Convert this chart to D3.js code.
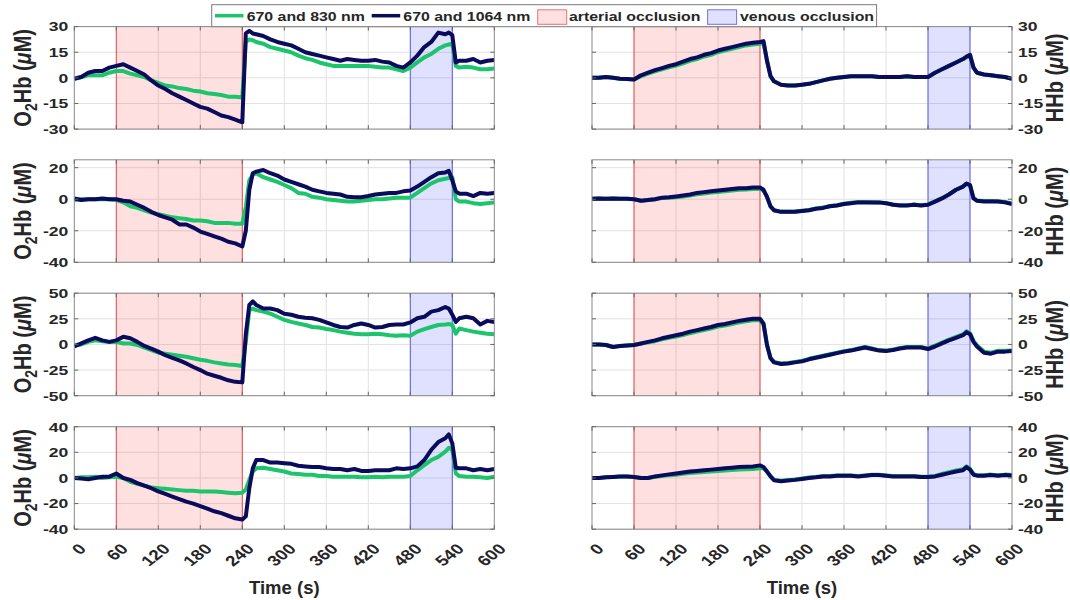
<!DOCTYPE html>
<html>
<head>
<meta charset="utf-8">
<script src="https://cdn.jsdelivr.net/npm/d3@7"></script>
<style>
body { margin: 0; background: #fff; }
text { font-family: "Liberation Sans", Arial, sans-serif; font-weight: bold; fill: #262626; }
</style>
</head>
<body>
<div id="chart"></div>
<script>
// sample times (s)
const time = [0,10,20,30,40,50,60,70,80,90,100,110,120,130,140,150,160,170,180,190,200,210,220,230,240,245,250,255,
  260,270,280,290,300,310,320,330,340,350,360,370,380,390,400,410,420,430,440,450,460,470,480,490,500,510,520,530,
  535,540,545,550,560,570,580,590,600];

// O2Hb, 670 and 1064 nm (rows 1-4)
const o2_1064_r1 = [-0.5,0.5,3,4,4,6,7,8,6,4,2,-1.5,-4.5,-6.5,-9,-11,-13,-15,-17,-18,-20,-22,-23,-24.5,-26,26,27.5,26,
  25.5,24.5,22.5,21,20,19,17,15,14,13,12,11,10,11,10.5,10,10,10.5,9.5,9,7,6,9,13,18,21,26.5,25.5,
  26.5,25,9,10,10,11,9,10,10.5];
const o2_1064_r2 = [0.5,-0.5,0,0,0.5,0,0,-1,-1.5,-3.5,-5.5,-8,-10,-11.5,-13,-16,-16,-18,-20.5,-22,-23.5,-25,-27,-28,-30,-20,6,16.5,
  17.5,18.5,16.5,15,12.5,11,9.5,8,6,5,4,3.5,3,1.5,1.2,1.2,2,3,3.5,4,4,5,5.5,8,11,14,16.5,17,
  18,12,5,3.5,3.5,2,4,3.5,4];
const o2_1064_r3 = [-2,1,4,6.5,4,2.5,4,7.5,6,2.5,-1.5,-4,-7,-10.5,-13,-15.5,-18.5,-22,-25,-28.5,-30.5,-32.5,-35,-36.5,-37,10,38.5,42,
  38.5,35,35,33.5,30,29,27,26,25.5,24,21.5,19,17,16.5,19,20.5,19,16.5,17,19,19.5,19.5,21.5,25.5,27,32,33.5,36.5,
  35,29,22,25.5,27,25.5,19.5,23,22];
const o2_1064_r4 = [0,-0.5,-1,0,1,1,3.5,0,-1.5,-4,-6,-8,-10.5,-12.5,-14.5,-16.5,-18.5,-20,-22,-24,-26,-27.5,-29.5,-31.5,-32.5,-30,-8,7.5,
  14,14,12,12,11.5,11,9.5,9,8.5,8.5,7.5,7,7,6,7,5.5,5.5,6,6,6,7.5,7,7.5,9,14,22,28,31,
  34,27,8,7.5,7.5,6,7,6,7];

// O2Hb, 670 and 830 nm
const o2_830_r1 = [-0.5,0.5,1.5,1.5,1.5,3,4,4,2.5,1.5,0.5,-1.5,-3,-4.5,-5,-6,-6.5,-7.5,-8,-9,-9.5,-10,-11,-11,-11.5,21,22.5,22,
  21,20,18,17,16,15,13,11.5,10.5,9,8,7,7,7,7,7,7,6.5,6,6,5,4,6,9,12,14,17,19,
  19.5,20,7,6,6.5,6,5,5,5.5];
const o2_830_r2 = [-0.5,0,0,0,0,0,-0.5,-2,-4.5,-5.5,-7,-8.5,-9.5,-10.5,-11.5,-12,-12.5,-13.5,-13.5,-14,-15,-15,-15,-15.5,-15.5,-5,12,15.5,
  16.5,14,12.5,11,9,7,4,3.5,1.5,1,0,-0.5,-1,-1.5,-1.5,-1,-0.5,0,0,0.5,1,1,1,4,7,10,12,13,
  13.5,14,0,-1.5,-1.5,-2.5,-3,-2.5,-2];
const o2_830_r3 = [-0.5,0,2.5,4,3,2.5,2.5,1,1,-0.5,-3,-5.5,-8,-9,-10,-11,-12,-13.5,-15,-16,-17.5,-18.5,-19.5,-20,-21,2.5,33.5,35,
  33.5,32,30,27,24,22,20.5,19,17,16.5,15,14,12.5,11.5,10.5,10,10,10.5,10,9,8.5,9,8.5,12.5,15,17,19,19.5,
  20,19,10.5,15.5,14,12.5,11.5,10.5,10];
const o2_830_r4 = [0,0.5,0.5,1,0,0.5,1,0,-3,-4.5,-6,-7.5,-8,-8.5,-9,-9.5,-10,-10,-10.5,-10.5,-10.5,-11,-11.5,-12,-11.5,-9,-1.5,5,
  7.5,8,7,6,5,3.5,3,2.5,2.5,1.5,1.5,1,1,1,1,0.5,0.5,1,0.5,1,1,1,1.5,6,10,14,16.5,20.5,
  23.5,22,3.5,1.5,1,1,0.5,0,1];

// HHb, 670 and 1064 nm
const hhb_1064_r1 = [0,0,0.5,0,-0.5,-0.7,-1,1.5,3,4.5,5.7,7,8,9.5,11,12,13.5,14.5,16,17,18,19,20,20.5,21,21.5,10,1,
  -2,-4,-4.5,-4.5,-4,-3.5,-2.5,-1.5,-0.5,0,0.5,1,1,1,1,0.5,0.5,0.5,0.5,1,0.5,0.5,0.5,3,5,7,9,11,
  12.5,13.5,6,3,2,1.5,1,0.5,-0.5];
const hhb_1064_r2 = [0.3,0.5,0.3,0.5,0.3,0.3,0,-1,-0.5,0,1,1.2,1.7,2.3,3,4,4.5,5,5.5,6,6.5,7,7,7.5,7.5,6,1.5,-4.5,
  -7,-8,-8,-8,-7.5,-7,-6,-5.5,-4.5,-4,-3,-2.5,-2,-2,-2,-2,-2.5,-3.5,-4,-4,-3.5,-4,-3.5,-1.5,0.5,3,6,8,
  10,9,0.5,-1,-1.5,-1.5,-1.5,-2,-3];
const hhb_1064_r3 = [0,0,-0.5,-2.5,-1.5,-1,-0.5,1,2.5,4,6,7.5,9,10.5,12.5,14,15.5,17,19,20,21.5,23,24,25,25,20.5,-0.5,-13.5,
  -17.5,-19,-18.5,-17.5,-16.5,-14.5,-13,-11.5,-10,-8.5,-7,-6,-4.5,-3,-4.5,-6,-6.5,-5.5,-4,-3,-3,-3,-4.5,-2,1,4,6.5,9,
  12,10,2.5,-2,-8,-9,-7,-7,-6.5];
const hhb_1064_r4 = [0,0,0.5,0.8,1.2,1.2,0.8,0,0,1.2,2,2.8,3.5,4.3,5,5.5,6,6.5,7,7.5,8,8.5,8.7,9,9.8,8.5,5,1.2,
  -1.8,-2.5,-2,-1.5,-0.8,0,0.5,1.2,1.2,1.8,1.8,1.8,1.2,1.8,2.3,2.3,1.8,1.2,1.2,1.2,1.2,0.8,0.8,1.2,2.5,3.8,5,6,
  8.5,6.5,2.5,1.8,1.8,2.3,1.8,2.3,2];

// HHb, 670 and 830 nm
const hhb_830_r1 = [0,0,0.5,0,-0.5,-0.7,-1,1,2.5,3.8,5,6.2,7.2,8.5,10,11,12.5,13.5,15,16,17,18,19,19.5,20,20.5,10,1,
  -2,-4,-4.5,-4.5,-4,-3.5,-2.5,-1.5,-0.5,0,0.5,1,1,1,1,0.5,0.5,0.5,0.5,1,0.5,0.5,0.5,3,5,7,9,11,
  12,13,6,3,2,1.5,1,0.5,-0.5];
const hhb_830_r2 = [0.3,0.5,0.3,0.5,0.3,0.3,0,-1,-0.5,0,0.8,1,1.2,1.7,2.3,3.2,3.7,4.2,4.6,5.1,5.6,6,6.1,6.5,6.6,5.5,1.5,-4.5,
  -7,-8,-8,-7.8,-7.3,-6.8,-5.8,-5.3,-4.3,-3.8,-2.8,-2.3,-1.8,-1.8,-1.9,-2,-2.5,-3.4,-3.8,-3.9,-3.4,-3.8,-3.3,-1.3,0.7,3.2,6,8,
  9.7,8.8,0.8,-0.8,-1.2,-1.2,-1.3,-1.8,-2.8];
const hhb_830_r3 = [0,0,-0.5,-2.5,-1.5,-1,-0.5,0.8,2,3.2,5,6.5,7.8,9.2,11,12.5,14,15.5,17.5,18.5,20,21.5,22.5,23.5,23.5,19.5,-0.5,-13,
  -17,-18.5,-18,-17,-16,-14,-12.5,-11,-9.5,-8,-6.5,-5.5,-4,-2.5,-4,-5.5,-6,-5,-3.5,-2.5,-2.5,-2.5,-4,-1.2,1.8,4.8,7.3,9.8,
  12.8,11,3.5,-1,-7,-8,-6.2,-6.2,-5.8];
const hhb_830_r4 = [0,0,0.5,0.8,1.2,1.2,0.8,0,0,1,1.6,2.2,2.5,3.2,3.8,4.2,4.6,5,5.4,5.8,6.2,6.6,6.8,7,7.6,7.5,5,1.5,
  -1.5,-2.2,-1.7,-1.2,-0.5,0.3,0.8,1.5,1.5,2,2,2,1.5,2,2.5,2.5,2,1.5,1.5,1.5,1.5,1,1,1.6,3.2,4.5,5.8,6.8,
  9,7.2,3,2.2,2.2,2.6,2.1,2.6,2.3];

// axes
const xTicks = [0,60,120,180,240,300,360,420,480,540,600];
const yDomains = [[-30,30],[-40,25],[-50,50],[-40,40]];
const yTicks = [[-30,-15,0,15,30],[-40,-20,0,20],[-50,-25,0,25,50],[-40,-20,0,20,40]];
const arterial = [60,240];
const venous = [480,540];
const legendLabels = ['670 and 830 nm','670 and 1064 nm','arterial occlusion','venous occlusion'];

const W = 1070, H = 600;
const colX = [74.3, 592];
const rowTop = [26.6, 159.8, 293.2, 426.7];
const plotW = 420, plotH = 102.5;
const stretch = 1.3;
const green = '#1cc46b', navy = '#0b0b5c';

const svg = d3.select('#chart').append('svg').attr('width', W).attr('height', H);

function drawPanel(col, row, s830, s1064) {
  const x0 = colX[col], y0 = rowTop[row];
  const x = d3.scaleLinear().domain([0, 600]).range([x0, x0 + plotW]);
  const y = d3.scaleLinear().domain(yDomains[row]).range([y0 + plotH, y0]);
  const g = svg.append('g');
  const clipId = 'clip' + col + row;
  g.append('clipPath').attr('id', clipId).append('rect')
    .attr('x', x0).attr('y', y0).attr('width', plotW).attr('height', plotH);

  // grid
  g.selectAll('.gx').data(xTicks.slice(1, -1)).join('line')
    .attr('x1', d => x(d)).attr('x2', d => x(d)).attr('y1', y0).attr('y2', y0 + plotH)
    .attr('stroke', '#e2e2e2').attr('stroke-width', 1);
  g.selectAll('.gy').data(yTicks[row]).join('line')
    .attr('x1', x0).attr('x2', x0 + plotW).attr('y1', d => y(d)).attr('y2', d => y(d))
    .attr('stroke', '#e2e2e2').attr('stroke-width', 1);

  // occlusion patches
  [[arterial, 'rgba(255,0,0,0.12)', '#e84a4a'], [venous, 'rgba(0,0,255,0.12)', '#5c5ce8']].forEach(p => {
    g.append('rect').attr('x', x(p[0][0])).attr('y', y0)
      .attr('width', x(p[0][1]) - x(p[0][0])).attr('height', plotH).attr('fill', p[1]);
    p[0].forEach(t => g.append('line').attr('x1', x(t)).attr('x2', x(t))
      .attr('y1', y0).attr('y2', y0 + plotH).attr('stroke', p[2]).attr('stroke-width', 1));
  });

  const line = d3.line().x((d, i) => x(time[i])).y(d => y(d));
  const lg = g.append('g').attr('clip-path', 'url(#' + clipId + ')');
  lg.append('path').datum(s830).attr('d', line).attr('fill', 'none')
    .attr('stroke', green).attr('stroke-width', 4).attr('stroke-linejoin', 'round');
  lg.append('path').datum(s1064).attr('d', line).attr('fill', 'none')
    .attr('stroke', navy).attr('stroke-width', 4).attr('stroke-linejoin', 'round');

  // box and inner ticks
  g.append('rect').attr('x', x0).attr('y', y0).attr('width', plotW).attr('height', plotH)
    .attr('fill', 'none').attr('stroke', '#8a8a8a').attr('stroke-width', 1);
  xTicks.forEach(t => {
    g.append('line').attr('x1', x(t)).attr('x2', x(t)).attr('y1', y0 + plotH).attr('y2', y0 + plotH - 4).attr('stroke', '#666');
    g.append('line').attr('x1', x(t)).attr('x2', x(t)).attr('y1', y0).attr('y2', y0 + 4).attr('stroke', '#666');
  });
  yTicks[row].forEach(v => {
    g.append('line').attr('x1', x0).attr('x2', x0 + 4).attr('y1', y(v)).attr('y2', y(v)).attr('stroke', '#666');
    g.append('line').attr('x1', x0 + plotW).attr('x2', x0 + plotW - 4).attr('y1', y(v)).attr('y2', y(v)).attr('stroke', '#666');
  });

  // y tick labels
  const left = col === 0;
  g.selectAll('.yt').data(yTicks[row]).join('text')
    .attr('transform', d => 'translate(' + (left ? x0 - 6 : x0 + plotW + 6) + ',' + y(d) + ') scale(' + stretch + ',1)')
    .attr('dy', '0.36em').attr('text-anchor', left ? 'end' : 'start')
    .style('font-size', '13.5px').text(d => d);

  // y axis label
  const lab = g.append('text')
    .attr('transform', 'translate(' + (left ? 31 : 1063) + ',' + (y0 + plotH / 2) + ') rotate(-90) scale(1,1.2)')
    .attr('text-anchor', 'middle').style('font-size', '20px');
  if (left) {
    lab.append('tspan').text('O');
    lab.append('tspan').attr('dy', 5).style('font-size', '14px').text('2');
    lab.append('tspan').attr('dy', -5).text('Hb (');
  } else {
    lab.append('tspan').text('HHb (');
  }
  lab.append('tspan').style('font-style', 'italic').text('\u03bc');
  lab.append('tspan').text('M)');

  // x tick labels on the bottom row
  if (row === 3) {
    g.selectAll('.xt').data(xTicks).join('text')
      .attr('transform', d => 'translate(' + (x(d) + 8) + ',' + (y0 + plotH + 17) + ') scale(' + stretch + ',1) rotate(-45)')
      .attr('dy', '0.36em').attr('text-anchor', 'end')
      .style('font-size', '14.5px').text(d => d);
    g.append('text').attr('x', x0 + plotW / 2).attr('y', 593.5)
      .attr('text-anchor', 'middle').style('font-size', '18.5px').text('Time (s)');
  }
}

const o2Rows = [[o2_830_r1, o2_1064_r1], [o2_830_r2, o2_1064_r2], [o2_830_r3, o2_1064_r3], [o2_830_r4, o2_1064_r4]];
const hhbRows = [[hhb_830_r1, hhb_1064_r1], [hhb_830_r2, hhb_1064_r2], [hhb_830_r3, hhb_1064_r3], [hhb_830_r4, hhb_1064_r4]];
o2Rows.forEach((s, r) => drawPanel(0, r, s[0], s[1]));
hhbRows.forEach((s, r) => drawPanel(1, r, s[0], s[1]));

// legend
const leg = svg.append('g');
leg.append('rect').attr('x', 211.7).attr('y', 4.7).attr('width', 664.9).attr('height', 22)
  .attr('fill', '#fff').attr('stroke', '#7a7a7a').attr('stroke-width', 1);
const legItems = [
  {type: 'line', color: green, x: 215, tx: 246.7},
  {type: 'line', color: navy, x: 371.7, tx: 403.3},
  {type: 'patch', fill: 'rgba(255,0,0,0.12)', stroke: '#f07070', x: 537.7, tx: 569},
  {type: 'patch', fill: 'rgba(0,0,255,0.12)', stroke: '#7070f0', x: 707.6, tx: 740}
];
legItems.forEach((it, i) => {
  if (it.type === 'line') {
    leg.append('line').attr('x1', it.x).attr('x2', it.x + 28.5).attr('y1', 15.7).attr('y2', 15.7)
      .attr('stroke', it.color).attr('stroke-width', 3.5);
  } else {
    leg.append('rect').attr('x', it.x).attr('y', 9.8).attr('width', 29).attr('height', 14.5)
      .attr('fill', it.fill).attr('stroke', it.stroke).attr('stroke-width', 1);
  }
  leg.append('text').attr('transform', 'translate(' + it.tx + ',20.6) scale(1.26,1)')
    .style('font-size', '12.6px').text(legendLabels[i]);
});
</script>
</body>
</html>
